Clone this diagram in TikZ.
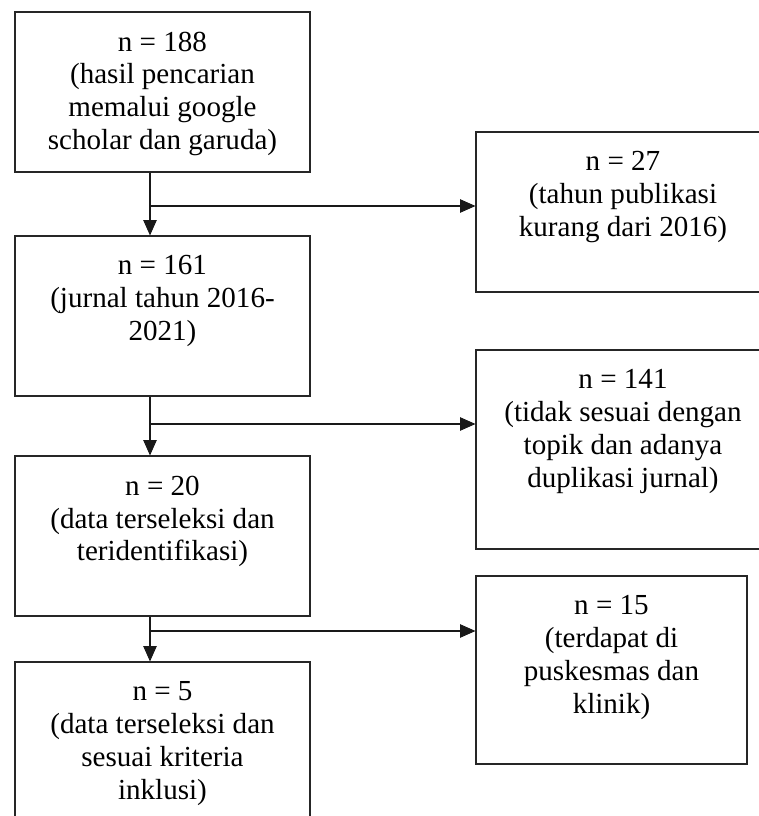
\documentclass[tikz,border=0pt]{standalone}
\usepackage{fontspec}
\setmainfont{Liberation Serif}
\usetikzlibrary{arrows.meta}
\begin{document}
\begin{tikzpicture}[x=0.75pt,y=-0.75pt,
  box/.style={draw=black!85, line width=0.8pt, inner sep=0pt},
  lbox/.style={box, minimum width=221.25pt, minimum height=120pt},
  txt/.style={anchor=north, align=center, inner sep=0pt, yshift=-15pt,
              font=\fontsize{21.8}{24.7}\selectfont},
  conn/.style={draw=black!90, line width=0.8pt,
               -{Triangle[length=11.5pt,width=10pt]}}]
\useasboundingbox (0,0) rectangle (758,816);
% left column
\node[lbox] (b1) at (162.5,92) {};
\node[lbox] (b2) at (162.5,316) {};
\node[lbox] (b3) at (162.5,536) {};
\node[lbox] (b4) at (162.5,742) {};
% right column
\node[box, minimum width=220.5pt, minimum height=120pt] (r1) at (623,212) {};
\node[box, minimum width=220.5pt, minimum height=149.25pt] (r2) at (623,449.5) {};
\node[box, minimum width=203.25pt, minimum height=141pt] (r3) at (611.5,670) {};
% texts
\node[txt] (t1) at (b1.north) {n = 188\\(hasil pencarian\\memalui google\\scholar dan garuda)};
\node[txt] (t2) at (b2.north) {n = 161\\(jurnal tahun 2016-\\2021)};
\node[txt] (t3) at (b3.north) {n = 20\\(data terseleksi dan\\teridentifikasi)};
\node[txt] (t4) at (b4.north) {n = 5\\(data terseleksi dan\\sesuai kriteria\\inklusi)};
\node[txt] (s1) at (r1.north) {n = 27\\(tahun publikasi\\kurang dari 2016)};
\node[txt] (s2) at (r2.north) {n = 141\\(tidak sesuai dengan\\topik dan adanya\\duplikasi jurnal)};
\node[txt] (s3) at (r3.north) {n = 15\\(terdapat di\\puskesmas dan\\klinik)};
% connectors
\coordinate (ax) at (150,0);
\coordinate (j1) at (150,206);
\coordinate (j2) at (150,424);
\coordinate (j3) at (150,631);
\draw[conn] (ax |- b1.south) -- (ax |- b2.north);
\draw[conn] (ax |- b2.south) -- (ax |- b3.north);
\draw[conn] (ax |- b3.south) -- (ax |- b4.north);
\draw[conn] (j1) -- (j1 -| r1.west);
\draw[conn] (j2) -- (j2 -| r2.west);
\draw[conn] (j3) -- (j3 -| r3.west);
\end{tikzpicture}
\end{document}
